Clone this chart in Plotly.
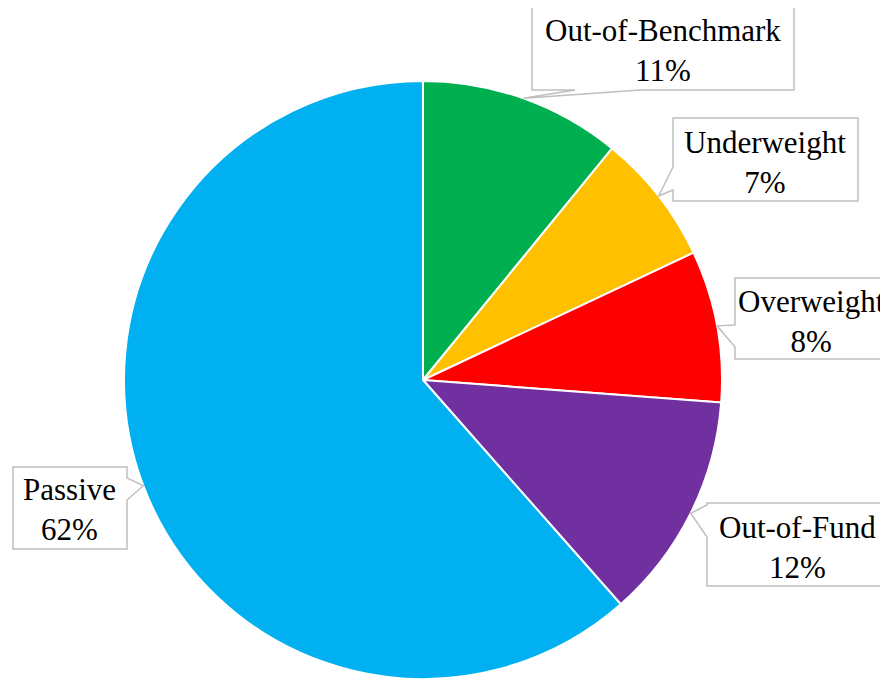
import math
import plotly.graph_objects as go

# ---- data ----
labels = ["Out-of-Benchmark", "Underweight", "Overweight", "Out-of-Fund", "Passive"]
values = [10.9, 7.1, 8.2, 12.3, 61.5]
pct_text = ["11%", "7%", "8%", "12%", "62%"]
colors = ["#00B050", "#FFC000", "#FF0000", "#7030A0", "#00B0F0"]

# ---- layout (page pixels; the page body adds an 8px offset) ----
OFF = 8
W, H = 888 - OFF, 679 - OFF
R = 299
CX = 423 - OFF
CY = H - R  # pie domain bottom sits on the figure bottom

# callout boxes (page pixels): x0, y0, x1, y1, wedge side, wedge base (a, b), text centre
boxes = [
    (532, 7, 794, 90, "bottom", (575, 640), (663, 51)),
    (673, 118, 858, 201, "left", (167, 190), (765, 162)),
    (735, 278, 900, 359, "left", (325, 347), (811, 321)),
    (707, 503, 886, 586, "left", (505, 537), (797, 547)),
    (13, 467, 127, 549, "right", (478, 500), (70, 510)),
]


def px(x):
    return (x - OFF) / W


def py(y):
    return 1 - (y - OFF) / H


fig = go.Figure(
    go.Pie(
        labels=labels,
        values=values,
        marker=dict(colors=colors, line=dict(color="white", width=2)),
        sort=False,
        direction="clockwise",
        rotation=0,
        textinfo="none",
        hoverinfo="label+percent",
        domain=dict(x=[(CX - R) / W, (CX + R) / W], y=[0, 2 * R / H]),
        showlegend=False,
    )
)

total = sum(values)
cum = 0.0
shapes = []
annotations = []
for i, v in enumerate(values):
    mid = (cum + v / 2) / total * 2 * math.pi
    cum += v
    # tip in page pixels
    tipx = CX + R * math.sin(mid) + OFF
    tipy = CY - R * math.cos(mid) + OFF
    x0, y0, x1, y1, side, (a, b), (tx, ty) = boxes[i]
    if side == "bottom":
        pts = [(x0, y0), (x1, y0), (x1, y1), (b, y1), (tipx, tipy), (a, y1), (x0, y1)]
    elif side == "left":
        pts = [(x0, y0), (x1, y0), (x1, y1), (x0, y1), (x0, b), (tipx, tipy), (x0, a)]
    else:
        pts = [(x0, y0), (x1, y0), (x1, a), (tipx, tipy), (x1, b), (x1, y1), (x0, y1)]
    path = "M " + " L ".join(f"{px(x):.5f},{py(y):.5f}" for x, y in pts) + " Z"
    shapes.append(dict(type="path", xref="paper", yref="paper", path=path,
                       fillcolor="white", line=dict(color="#BFBFBF", width=1.5),
                       layer="above"))
    annotations.append(dict(x=px(tx), y=py(ty), xref="paper", yref="paper",
                            text=f"{labels[i]}<br>{pct_text[i]}", showarrow=False,
                            xanchor="center", yanchor="middle", align="center",
                            font=dict(family="Liberation Serif, Times New Roman, serif",
                                      size=31, color="black")))

fig.update_layout(
    width=W, height=H,
    margin=dict(l=0, r=0, t=0, b=0),
    paper_bgcolor="white", plot_bgcolor="white",
    shapes=shapes, annotations=annotations,
)

fig.write_html("out.html")
